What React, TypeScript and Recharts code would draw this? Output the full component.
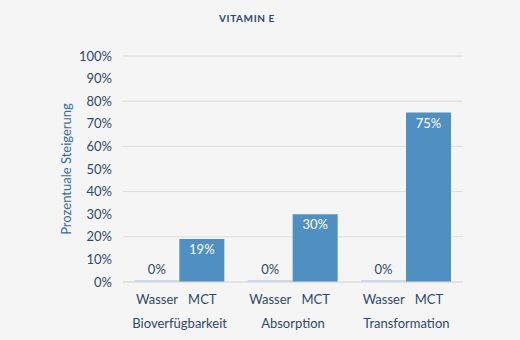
import React from "react";
import { BarChart, Bar, XAxis, YAxis, CartesianGrid, LabelList } from "recharts";

const categories = ["Bioverfügbarkeit", "Absorption", "Transformation"];
const seriesNames = ["Wasser", "MCT"];
const wasserValues = [0, 0, 0];
const mctValues = [19, 30, 75];
const yTicks = [0, 10, 20, 30, 40, 50, 60, 70, 80, 90, 100];

const data = categories.map((name, i) => ({
  name,
  wasser: wasserValues[i],
  mct: mctValues[i],
}));

const FONT = "Lato, 'Noto Sans', sans-serif";
const NAVY = "#2c4a6b";
const CATEGORY_GAP = 0.1;

const pct = (v: number) => `${v}%`;

// Two-level category tick: series names under each bar, group name below.
const GroupTick = (props: any) => {
  const { x, y, payload } = props;
  const band = payload && payload.offset ? payload.offset * 2 : 113.3;
  const shift = (band * (1 - 2 * CATEGORY_GAP)) / 4;
  return (
    <g>
      <text x={x - shift} y={y + 22} textAnchor="middle" fill={NAVY} fontSize={13} fontFamily={FONT}>
        {seriesNames[0]}
      </text>
      <text x={x + shift} y={y + 22} textAnchor="middle" fill={NAVY} fontSize={13} fontFamily={FONT}>
        {seriesNames[1]}
      </text>
      <text x={x} y={y + 46} textAnchor="middle" fill={NAVY} fontSize={13} fontFamily={FONT}>
        {payload.value}
      </text>
    </g>
  );
};

export default function App() {
  return (
    <div style={{ position: "absolute", left: 0, top: 0, width: 520, height: 340, background: "#f5f5f5" }}>
      <svg width={520} height={30} style={{ position: "absolute", left: 0, top: 0 }}>
        <text x={247} y={22} textAnchor="middle" fill={NAVY} fontSize={10} fontWeight={700} letterSpacing={0.6} fontFamily={FONT}>
          VITAMIN E
        </text>
      </svg>
      <BarChart
        width={520}
        height={340}
        data={data}
        margin={{ top: 56, right: 57, bottom: 0, left: 0 }}
        barCategoryGap="10%"
        barGap={0}
      >
        <CartesianGrid vertical={false} stroke="#dcdcdc" />
        <XAxis
          dataKey="name"
          axisLine={{ stroke: "#dcdcdc" }}
          tickLine={false}
          tickSize={0}
          tickMargin={0}
          height={58}
          interval={0}
          tick={<GroupTick />}
        />
        <YAxis
          width={123}
          domain={[0, 100]}
          ticks={yTicks}
          tickFormatter={pct}
          axisLine={false}
          tickLine={false}
          tickMargin={5}
          tick={{ fill: NAVY, fontSize: 13, fontFamily: FONT }}
          label={{
            value: "Prozentuale Steigerung",
            angle: -90,
            position: "insideLeft",
            dx: 61,
            dy: 0,
            style: { textAnchor: "middle", fill: "#3b6c9a", fontSize: 13, fontFamily: FONT },
          }}
        />
        <Bar dataKey="wasser" fill="#c9d8ec" minPointSize={2} isAnimationActive={false}>
          <LabelList dataKey="wasser" position="top" offset={6} formatter={pct} fill={NAVY} fontSize={13} fontFamily={FONT} />
        </Bar>
        <Bar dataKey="mct" fill="#508fc2" isAnimationActive={false}>
          <LabelList dataKey="mct" position="insideTop" offset={6} formatter={pct} fill="#ffffff" fontSize={13} fontFamily={FONT} />
        </Bar>
      </BarChart>
    </div>
  );
}
